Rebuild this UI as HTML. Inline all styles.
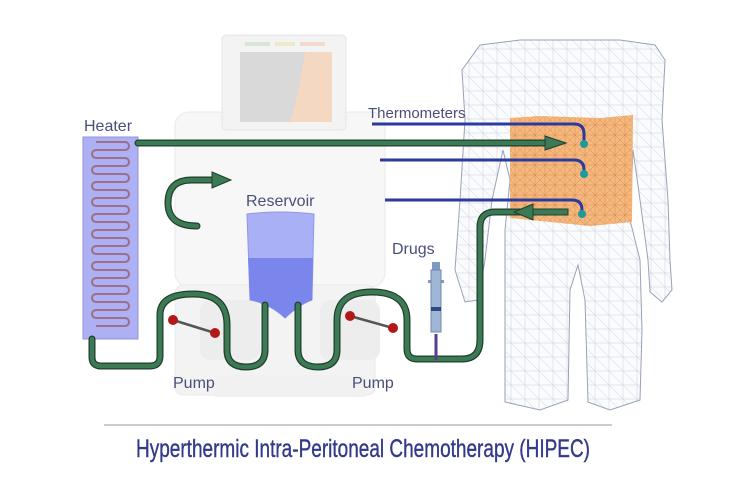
<!DOCTYPE html>
<html><head><meta charset="utf-8"><style>
html,body{margin:0;padding:0;background:#fff;}
svg{display:block;}
text{font-family:"Liberation Sans",sans-serif;}
</style></head><body>
<svg width="750" height="494" viewBox="0 0 750 494" xmlns="http://www.w3.org/2000/svg">
<defs>
<pattern id="mesh" width="14" height="14" patternUnits="userSpaceOnUse">
<path d="M0 0L14 14M0 7H14M7 0V14" stroke="#9aa3bd" stroke-width="0.5" fill="none"/>
</pattern>
<pattern id="mesh2" width="10" height="10" patternUnits="userSpaceOnUse">
<path d="M0 0L10 10M10 0L0 10M0 5H10M5 0V10" stroke="#c7702a" stroke-width="0.5" fill="none"/>
</pattern>
</defs>
<!-- machine -->
<g opacity="0.7">
<rect x="175" y="112" width="210" height="175" rx="14" fill="#f4f4f4" stroke="#e2e2e2"/>
<rect x="175" y="285" width="200" height="110" rx="8" fill="#efefef" stroke="#e0e0e0"/>
<rect x="222" y="35" width="124" height="95" rx="4" fill="#eeeeee" stroke="#dcdcdc"/>
<rect x="240" y="52" width="92" height="70" fill="#c9c9c9"/>
<path d="M305 52H332V122H290Q300 90 305 52Z" fill="#f2c8a8"/>
<rect x="245" y="42" width="25" height="4" fill="#c8dcc8"/><rect x="275" y="42" width="20" height="4" fill="#e8e0b8"/><rect x="300" y="42" width="25" height="4" fill="#f0c8c0"/>
<rect x="200" y="300" width="60" height="60" rx="10" fill="#e6e6e6"/>
<rect x="320" y="300" width="60" height="60" rx="10" fill="#e6e6e6"/>
<rect x="215" y="375" width="150" height="22" fill="#ececec"/>
</g>
<!-- body -->
<path d="M480 45L520 40L620 40L655 45L665 60L662 120L668 200L670 260L672 290L662 302L650 292L648 260L640 200L633 150L630 220L640 260L642 330L640 400L610 410L588 402L585 300L578 265L570 290L568 400L540 410L505 402L505 300L505 230L510 180L503 150L492 200L485 260L478 300L465 302L455 270L460 200L465 120L462 70Z" fill="#fafbfd" stroke="#9aa2b8" stroke-width="1"/>
<path d="M480 45L520 40L620 40L655 45L665 60L662 120L668 200L670 260L672 290L662 302L650 292L648 260L640 200L633 150L630 220L640 260L642 330L640 400L610 410L588 402L585 300L578 265L570 290L568 400L540 410L505 402L505 300L505 230L510 180L503 150L492 200L485 260L478 300L465 302L455 270L460 200L465 120L462 70Z" fill="url(#mesh)" opacity="0.5"/>
<path d="M510 118L540 116L600 118L633 115L632 222L590 226L550 222L510 218Z" fill="#f5b980"/>
<path d="M510 118L540 116L600 118L633 115L632 222L590 226L550 222L510 218Z" fill="url(#mesh2)" opacity="0.6"/>
<!-- heater -->
<rect x="83" y="137" width="55" height="202" fill="#aeb0f4" stroke="#9092d8"/>
<path d="M96 142 H125 a4 4 0 0 1 0 8 H96 a4 4 0 0 0 0 8 H125 a4 4 0 0 1 0 8 H96 a4 4 0 0 0 0 8 H125 a4 4 0 0 1 0 8 H96 a4 4 0 0 0 0 8 H125 a4 4 0 0 1 0 8 H96 a4 4 0 0 0 0 8 H125 a4 4 0 0 1 0 8 H96 a4 4 0 0 0 0 8 H125 a4 4 0 0 1 0 8 H96 a4 4 0 0 0 0 8 H125 a4 4 0 0 1 0 8 H96 a4 4 0 0 0 0 8 H125 a4 4 0 0 1 0 8 H96 a4 4 0 0 0 0 8 H125 a4 4 0 0 1 0 8 H96 a4 4 0 0 0 0 8 H125 a4 4 0 0 1 0 8 H96 a4 4 0 0 0 0 8 H125 a4 4 0 0 1 0 8 H96 a4 4 0 0 0 0 8 H125 a4 4 0 0 1 0 8 H96" fill="none" stroke="#9a6f8a" stroke-width="2"/>
<text x="84" y="131" font-size="16" fill="#4a4f7a">Heater</text>
<!-- reservoir -->
<path d="M247 214Q280 210 314 214L312 300Q300 304 285 318Q270 304 250 300Z" fill="#aab0f6" stroke="#8f96e8"/>
<path d="M248 258H313L312 300Q300 304 285 318Q270 304 250 300Z" fill="#7b86ec"/>
<text x="246" y="206" font-size="16" fill="#4a4f7a">Reservoir</text>
<!-- thermometers -->
<g stroke="#2c3a9e" stroke-width="3" fill="none">
<path d="M372 124H574Q584 124 584 134V142"/>
<path d="M380 160H574Q584 160 584 170V172"/>
<path d="M385 200H572Q582 200 582 210V213"/>
</g>
<g fill="#1e9a9a"><circle cx="584" cy="144" r="4"/><circle cx="584" cy="174" r="4"/><circle cx="582" cy="214" r="4"/></g>
<text x="368" y="118" font-size="15" fill="#4a4f7a">Thermometers</text>
<!-- tubes -->
<g fill="none" stroke-linecap="round" stroke-linejoin="round">
<g stroke="#1f3f2c" stroke-width="7">
<path d="M138 143H548"/>
<path d="M92 339V357Q92 366 101 366H150Q160 366 160 356V315Q160 294 193 294Q227 294 227 325V350Q227 367 246 367Q265 367 265 350V305"/>
<path d="M298 305V350Q298 367 318 367Q337 367 337 350V320Q337 292 372 292Q407 292 407 320V349Q407 359 417 359H462Q480 359 480 340V227Q480 212 495 212H520"/>
<path d="M197 226Q168 226 168 203Q168 180 192 180H214"/>
</g>
<g stroke="#3c7a55" stroke-width="4.5">
<path d="M138 143H548"/>
<path d="M92 339V357Q92 366 101 366H150Q160 366 160 356V315Q160 294 193 294Q227 294 227 325V350Q227 367 246 367Q265 367 265 350V305"/>
<path d="M298 305V350Q298 367 318 367Q337 367 337 350V320Q337 292 372 292Q407 292 407 320V349Q407 359 417 359H462Q480 359 480 340V227Q480 212 495 212H520"/>
<path d="M197 226Q168 226 168 203Q168 180 192 180H214"/>
</g>
</g>
<g fill="#3c7a55" stroke="#1f3f2c" stroke-width="1">
<path d="M545 136L566 143L545 150Z"/>
<path d="M212 172L231 180L212 188Z"/>
<path d="M533 204L514 212L533 220Z"/>
<rect x="533" y="209" width="35" height="6"/>
</g>
<!-- pumps -->
<g stroke="#555" stroke-width="2.5"><line x1="173" y1="320" x2="215" y2="333"/><line x1="350" y1="316" x2="393" y2="328"/></g>
<g fill="#b21818"><circle cx="173" cy="320" r="5"/><circle cx="215" cy="333" r="5"/><circle cx="350" cy="316" r="5"/><circle cx="393" cy="328" r="5"/></g>
<text x="173" y="388" font-size="16" fill="#4a4f7a">Pump</text>
<text x="352" y="388" font-size="16" fill="#4a4f7a">Pump</text>
<!-- syringe -->
<text x="392" y="254" font-size="16" fill="#4a4f7a">Drugs</text>
<line x1="436" y1="334" x2="436" y2="360" stroke="#5a3e8e" stroke-width="3"/>
<rect x="432" y="262" width="8" height="8" fill="#7d9ac0"/>
<rect x="428" y="280" width="16" height="3" fill="#7d9ac0"/>
<rect x="431" y="270" width="10" height="62" fill="#9fb6d6" stroke="#6f88ad"/>
<rect x="431" y="307" width="10" height="4" fill="#2a4a80"/>
<!-- caption -->
<line x1="104" y1="425" x2="612" y2="425" stroke="#cccccc" stroke-width="2"/>
<text x="136" y="457" font-size="25" fill="#343a8a" stroke="#343a8a" stroke-width="0.4" textLength="454" lengthAdjust="spacingAndGlyphs">Hyperthermic Intra-Peritoneal Chemotherapy (HIPEC)</text>
</svg>
</body></html>
